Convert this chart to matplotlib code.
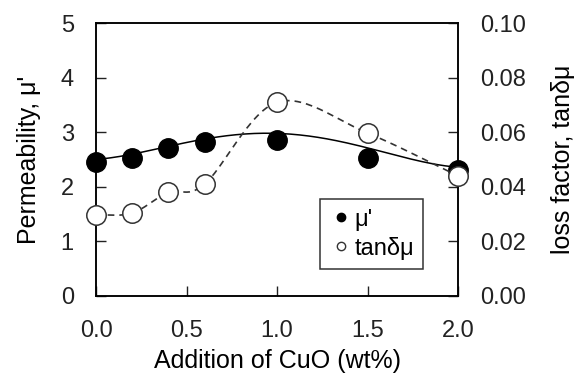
import matplotlib.pyplot as plt
import numpy as np

plt.rcParams['font.family'] = ['Liberation Sans', 'DejaVu Sans']
plt.rcParams['font.size'] = 17

cuo = [0.0, 0.2, 0.4, 0.6, 1.0, 1.5, 2.0]
mu = [2.45, 2.53, 2.71, 2.82, 2.86, 2.52, 2.30]
tan_d = [0.0297, 0.0304, 0.038, 0.041, 0.071, 0.0597, 0.044]

# trend line for mu'
trend_x = [0.0, 0.3, 0.6, 1.0, 1.5, 2.0]
trend_y = [2.50, 2.68, 2.86, 2.99, 2.71, 2.36]


def catmull_rom(x, y, n=30):
    # smooth line through the points, like the spreadsheet "smoothed line"
    x = np.asarray(x, float)
    y = np.asarray(y, float)
    px = np.concatenate([[2 * x[0] - x[1]], x, [2 * x[-1] - x[-2]]])
    py = np.concatenate([[2 * y[0] - y[1]], y, [2 * y[-1] - y[-2]]])
    xs, ys = [], []
    t = np.linspace(0, 1, n)
    for i in range(1, len(px) - 2):
        for p, out in ((px, xs), (py, ys)):
            p0, p1, p2, p3 = p[i - 1], p[i], p[i + 1], p[i + 2]
            out.extend(0.5 * (2 * p1 + (-p0 + p2) * t
                              + (2 * p0 - 5 * p1 + 4 * p2 - p3) * t ** 2
                              + (-p0 + 3 * p1 - 3 * p2 + p3) * t ** 3))
    return xs, ys


fig, ax1 = plt.subplots(figsize=(5.82, 3.79), dpi=100)
fig.subplots_adjust(left=0.165, right=0.787, top=0.939, bottom=0.219)
ax2 = ax1.twinx()

coef = np.polyfit(trend_x, trend_y, 4)
xx = np.linspace(0, 2, 200)
ax1.plot(xx, np.polyval(coef, xx), color='black', lw=1.1, zorder=2)

sx, sy = catmull_rom(cuo, tan_d)
ax2.plot(sx, sy, color='#333333', lw=1.2, ls=(0, (4, 3)), zorder=2)

ax1.plot(cuo, mu, 'o', color='black', ms=14, zorder=4, clip_on=False)
ax2.plot(cuo, tan_d, 'o', mfc='white', mec='#333333', mew=1.1, ms=14,
         zorder=3, clip_on=False)

ax1.set_xlim(0, 2.0)
ax1.set_ylim(0, 5)
ax2.set_ylim(0, 0.10)
ax1.set_xticks([0.0, 0.5, 1.0, 1.5, 2.0])
ax1.set_xticklabels(['0.0', '0.5', '1.0', '1.5', '2.0'])
ax1.set_yticks(range(6))
ax2.set_yticks([0, 0.02, 0.04, 0.06, 0.08, 0.10])
ax2.set_yticklabels(['0.00', '0.02', '0.04', '0.06', '0.08', '0.10'])

for ax in (ax1, ax2):
    ax.tick_params(direction='in', length=7, width=1, pad=16, colors='#222222')
    for s in ax.spines.values():
        s.set_linewidth(1.1)
ax1.tick_params(axis='x', pad=17)

ax1.set_xlabel('Addition of CuO (wt%)', fontsize=18, labelpad=5)
ax1.set_ylabel("Permeability, μ'", fontsize=18, labelpad=14)
ax2.set_ylabel('loss factor, tanδμ', fontsize=18, labelpad=18)

h1, = ax1.plot([], [], 'o', color='black', ms=6)
h2, = ax1.plot([], [], 'o', mfc='white', mec='#333333', ms=6)
leg = ax1.legend([h1, h2], ["μ'", 'tanδμ'], loc='lower left',
                 bbox_to_anchor=(0.619, 0.099), frameon=True, fancybox=False,
                 edgecolor='black', handlelength=1.0, handletextpad=0.05,
                 borderpad=0.4, labelspacing=0.25, borderaxespad=0,
                 fontsize=17)
leg.get_frame().set_linewidth(1.1)
leg.set_zorder(5)

plt.savefig('out.png', dpi=100)
